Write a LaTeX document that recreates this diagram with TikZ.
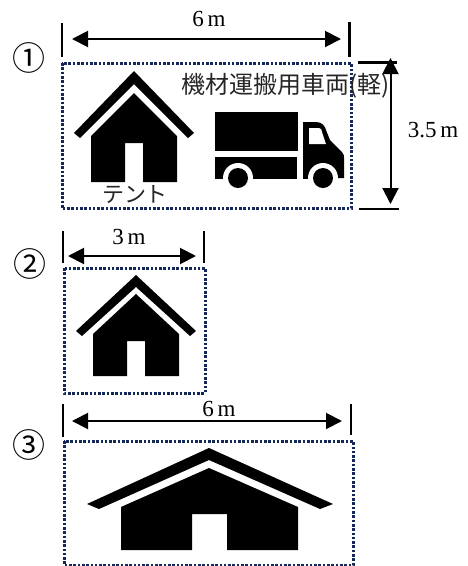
\documentclass[tikz,border=0pt]{standalone}
\usepackage{fontspec}
\setmainfont{Liberation Serif}
\newfontfamily\jpfont{Noto Sans CJK JP}
\usetikzlibrary{arrows.meta}
\definecolor{plotblue}{HTML}{14285A}
\tikzset{
  plotbox/.style={draw=plotblue, line width=3pt, dash pattern=on 2.6pt off 1.7pt},
  limit/.style={line width=2.4pt},
  span/.style={line width=2pt, {Triangle[length=16pt,width=16pt]}-{Triangle[length=16pt,width=16pt]}},
  size/.style={font=\fontsize{23}{23}\selectfont, inner sep=0pt},
  plotno/.style={font=\jpfont\fontsize{33}{33}\selectfont, inner sep=0pt},
  jplabel/.style={font=\jpfont\fontsize{24}{24}\selectfont, inner sep=0pt, color=black!85}
}
\begin{document}
\begin{tikzpicture}[x=1pt, y=-1pt]
    \useasboundingbox (0,0) rectangle (468,566);

    % Plot 1
    \draw[plotbox] (62,63) rectangle (351,208.5);
    \node[plotno] (no1) at (29,58) {①};
    \coordinate (w1a) at (72,39);
    \coordinate (w1b) at (341,39);
    \draw[limit] (62,23) -- (62,57);
    \draw[limit] (349.5,22) -- (349.5,57);
    \draw[span] (w1a) -- (w1b);
    \node[size] (w1) at (209,19) {6\,m};
    \coordinate (d1a) at (390.5,58);
    \coordinate (d1b) at (390.5,204);
    \draw[limit] (358,62.5) -- (397,62.5);
    \draw[limit] (359,208.7) -- (399,208.7);
    \draw[span] (d1a) -- (d1b);
    \node[size] (d1) at (433,130) {3.5\,m};

    % Tent
    \fill (134,71) -- (194,133) -- (188,138) -- (134,84) -- (80,138) -- (74,133) -- cycle;
    \fill (134,93) -- (177,136) -- (177,182) -- (143,182) -- (143,143) -- (125,143)
      -- (125,182) -- (91,182) -- (91,136) -- cycle;
    \node[jplabel, font=\jpfont\fontsize{22}{22}\selectfont] (tent) at (135,195) {テント};

    % Truck
    \node[jplabel, anchor=west] (truck) at (181,86) {機材運搬用車両(軽)};
    \fill (215,112) rectangle (298,151);
    \fill (215,157) rectangle (297,179);
    \fill (303,122) -- (316,122) .. controls (322,122) and (325,126) .. (326,130)
      -- (330,140) -- (342,152) .. controls (344,154) and (344,156) .. (344,158)
      -- (344,178) -- (303,179) -- cycle;
    \fill[white] (309,128) -- (319,128) .. controls (321,128) and (322,130) .. (322,132)
      -- (326,144) -- (309,144) -- cycle;
    \foreach \wx in {238,323} {
      \fill[white] (\wx,178) circle [radius=15];
      \fill (\wx,178) circle [radius=10];
    }

    % Plot 2
    \draw[plotbox] (64,268) rectangle (205,393);
    \node[plotno] (no2) at (30,264) {②};
    \coordinate (w2a) at (68,256);
    \coordinate (w2b) at (196,256);
    \draw[limit] (63,231) -- (63,263);
    \draw[limit] (204,231) -- (204,263);
    \draw[span] (w2a) -- (w2b);
    \node[size] (w2) at (129,237) {3\,m};
    \fill (136,275) -- (196,331) -- (190,336) -- (136,287) -- (82,336) -- (76,331) -- cycle;
    \fill (136,294) -- (179,334) -- (179,376) -- (145,376) -- (145,341) -- (127,341)
      -- (127,376) -- (93,376) -- (93,334) -- cycle;

    % Plot 3
    \draw[plotbox] (64,441) rectangle (353,565);
    \node[plotno] (no3) at (29,445) {③};
    \coordinate (w3a) at (72,421);
    \coordinate (w3b) at (342,421);
    \draw[limit] (63,404) -- (63,437);
    \draw[limit] (351,404) -- (351,435);
    \draw[span] (w3a) -- (w3b);
    \node[size] (w3) at (219,409) {6\,m};
    \fill (209,448) -- (333,504) -- (320,509) -- (209,460) -- (99,509) -- (87,504) -- cycle;
    \fill (209,468) -- (298,507) -- (298,550) -- (227,550) -- (227,514) -- (192,514)
      -- (192,550) -- (121,550) -- (121,507) -- cycle;
\end{tikzpicture}
\end{document}
